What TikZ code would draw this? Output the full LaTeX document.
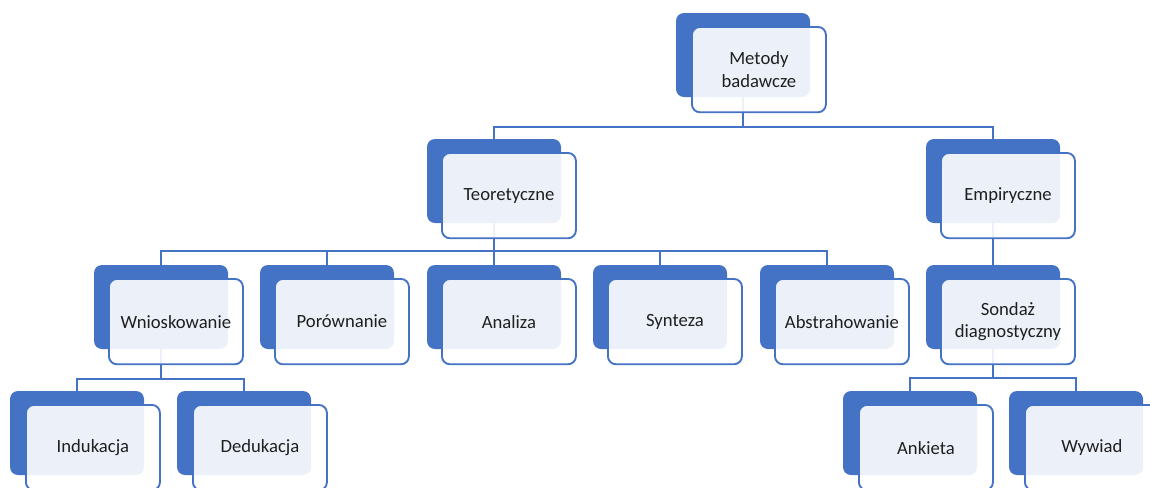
\documentclass[tikz,border=0pt]{standalone}
\usepackage{fontspec}
\setmainfont{Carlito}
\usetikzlibrary{positioning}
\definecolor{boxblue}{HTML}{4472C4}

\begin{document}
\begin{tikzpicture}[x=0.75pt, y=-0.75pt,
        backbox/.style={rectangle, rounded corners=6pt, fill=boxblue, outer sep=0pt,
            minimum width=100.5pt, minimum height=63pt, anchor=north west},
        frontbox/.style={rectangle, rounded corners=6pt, draw=boxblue, line width=1.4pt,
            fill=white, fill opacity=0.9, text opacity=1, text=black!88, align=center,
            minimum width=100.5pt, minimum height=64pt, anchor=north west,
            font=\fontsize{14}{17}\selectfont},
        link/.style={draw=boxblue, line width=1.5pt}]
    \useasboundingbox (0,0) rectangle (1150,487);

    % back boxes
    \node [backbox] (metody) at (676,13) {};
    \node [backbox] (teor) at (427,139) {};
    \node [backbox] (emp) at (926,139) {};
    \node [backbox] (wnio) at (94,265) {};
    \node [backbox] (por) at (260,265) {};
    \node [backbox] (anal) at (427,265) {};
    \node [backbox] (synt) at (593,265) {};
    \node [backbox] (abst) at (760,265) {};
    \node [backbox] (sond) at (926,265) {};
    \node [backbox] (indu) at (10,391) {};
    \node [backbox] (dedu) at (177,391) {};
    \node [backbox] (ank) at (843,391) {};
    \node [backbox] (wyw) at (1009,391) {};

    % connectors
    \draw [link] (metody.south) -- ++(0,30) -| (teor.north);
    \draw [link] (metody.south) -- ++(0,30) -| (emp.north);
    \draw [link] (teor.south) -- ++(0,28) -| (wnio.north);
    \draw [link] (teor.south) -- ++(0,28) -| (por.north);
    \draw [link] (teor.south) -- (anal.north);
    \draw [link] (teor.south) -- ++(0,28) -| (synt.north);
    \draw [link] (teor.south) -- ++(0,28) -| (abst.north);
    \draw [link] (emp.south) -- (sond.north);
    \draw [link] (wnio.south) -- ++(0,30) -| (indu.north);
    \draw [link] (wnio.south) -- ++(0,30) -| (dedu.north);
    \draw [link] (sond.south) -- ++(0,29) -| (ank.north);
    \draw [link] (sond.south) -- ++(0,29) -| (wyw.north);

    % front boxes with the labels
    \node [frontbox] (metodyF) at ([shift={(15,13)}]metody.north west) {Metody\\badawcze};
    \node [frontbox] (teorF) at ([shift={(14,13)}]teor.north west) {Teoretyczne};
    \node [frontbox] (empF) at ([shift={(14,13)}]emp.north west) {Empiryczne};
    \node [frontbox] (wnioF) at ([shift={(14,13)}]wnio.north west) {Wnioskowanie};
    \node [frontbox] (porF) at ([shift={(14,13)}]por.north west) {Porównanie};
    \node [frontbox] (analF) at ([shift={(14,13)}]anal.north west) {Analiza};
    \node [frontbox] (syntF) at ([shift={(14,13)}]synt.north west) {Synteza};
    \node [frontbox] (abstF) at ([shift={(14,13)}]abst.north west) {Abstrahowanie};
    \node [frontbox] (sondF) at ([shift={(14,13)}]sond.north west) {Sondaż\\diagnostyczny};
    \node [frontbox] (induF) at ([shift={(15,13)}]indu.north west) {Indukacja};
    \node [frontbox] (deduF) at ([shift={(15,13)}]dedu.north west) {Dedukacja};
    \node [frontbox] (ankF) at ([shift={(15,13)}]ank.north west) {Ankieta};
    \node [frontbox] (wywF) at ([shift={(15,13)}]wyw.north west) {Wywiad};
\end{tikzpicture}
\end{document}
